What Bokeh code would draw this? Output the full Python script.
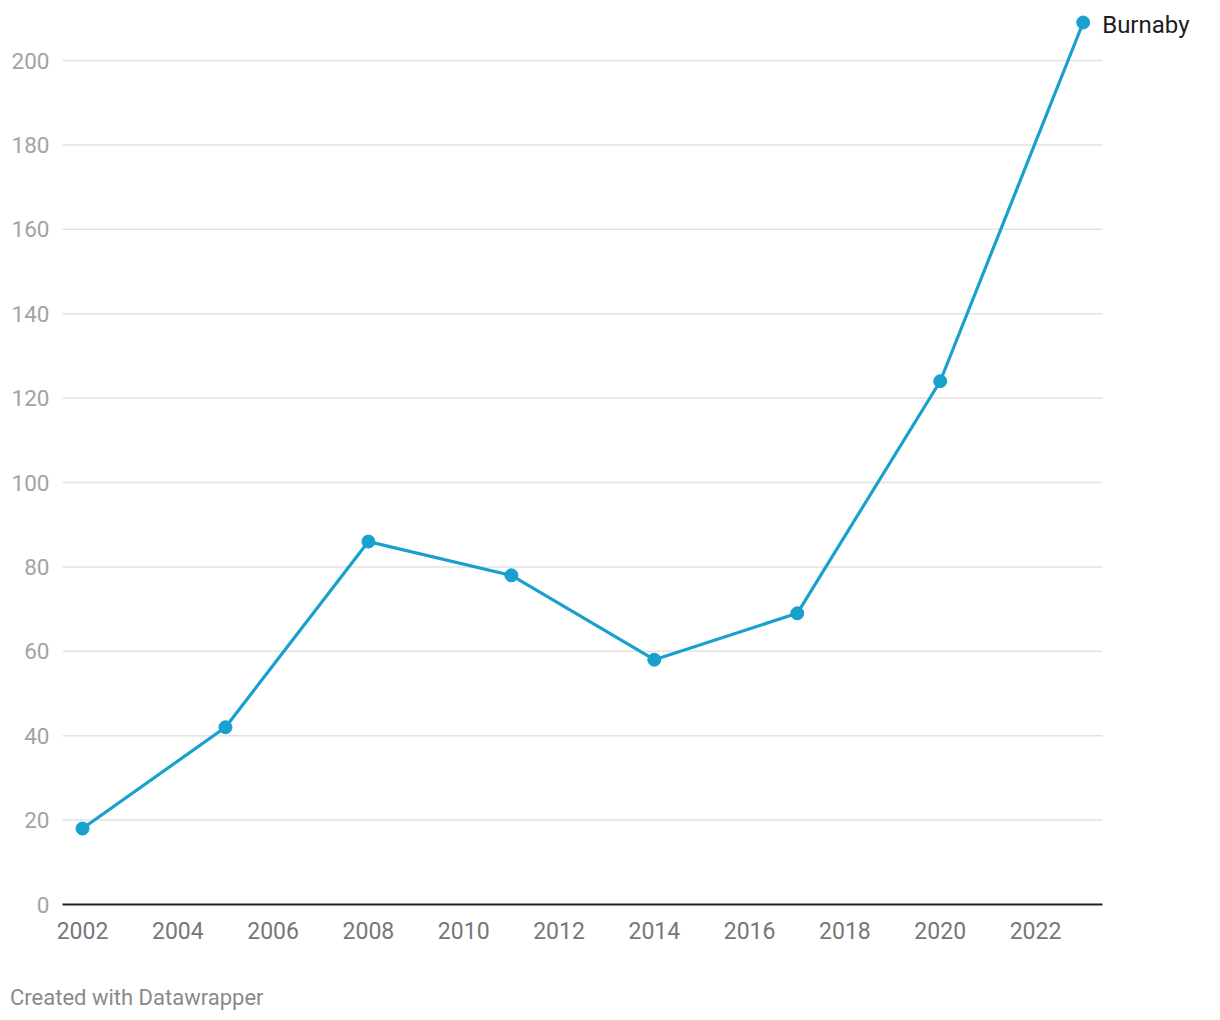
from bokeh.plotting import figure
from bokeh.models import FixedTicker, Range1d, ColumnDataSource, Div
from bokeh.layouts import column
from bokeh.core.properties import value
from bokeh.embed import file_html
from bokeh.resources import INLINE

years = [2002, 2005, 2008, 2011, 2014, 2017, 2020, 2023]
values = [18, 42, 86, 78, 58, 69, 124, 209]
series_name = "Burnaby"
x_ticks = list(range(2002, 2023, 2))
y_ticks = list(range(0, 201, 20))
credit = "Created with Datawrapper"

LINE = "#18a1cd"
FONT = "Roboto"

X0, X_GRID_END, X1 = 2001.58, 2023.406, 2025.672
Y0, Y1 = 0, 214.22

p = figure(width=1210, height=948, output_backend="svg", toolbar_location=None,
           x_range=Range1d(X0, X1), y_range=Range1d(Y0, Y1),
           min_border_left=62, min_border_right=0, min_border_top=0, min_border_bottom=44)
p.outline_line_color = None
p.background_fill_color = "white"
p.border_fill_color = "white"

# axes
p.xaxis.ticker = FixedTicker(ticks=x_ticks)
p.xaxis.bounds = (X0, X_GRID_END)
p.xaxis.axis_line_color = "#222222"
p.xaxis.axis_line_width = 2
p.xaxis.major_tick_line_color = None
p.xaxis.minor_tick_line_color = None
p.xaxis.major_label_text_font = FONT
p.xaxis.major_label_text_font_size = "23px"
p.xaxis.major_label_text_color = "#777777"
p.xaxis.major_label_standoff = 11

p.yaxis.ticker = FixedTicker(ticks=y_ticks)
p.yaxis.axis_line_color = None
p.yaxis.major_tick_line_color = None
p.yaxis.minor_tick_line_color = None
p.yaxis.major_label_text_font = FONT
p.yaxis.major_label_text_font_size = "22.5px"
p.yaxis.major_label_text_color = "#a3a3a3"
p.yaxis.major_label_standoff = 7

p.grid.grid_line_color = None

# horizontal gridlines, limited to the plotting width (not under the label)
grid_src = ColumnDataSource(dict(y=y_ticks[1:], x0=[X0] * (len(y_ticks) - 1),
                                 x1=[X_GRID_END] * (len(y_ticks) - 1)))
p.segment(x0="x0", y0="y", x1="x1", y1="y", source=grid_src,
          line_color="#e2e2e2", line_width=1.5)

src = ColumnDataSource(dict(x=years, y=values))
p.line("x", "y", source=src, line_color=LINE, line_width=3.2)
p.scatter("x", "y", source=src, size=13, fill_color=LINE, line_color=LINE)

p.text(x=[years[-1]], y=[values[-1]], text=[series_name], x_offset=19, y_offset=2,
       text_baseline="middle", text_align="left", text_font=value(FONT),
       text_font_size="24px", text_color="#1d1d1d")

note = Div(text=credit, width=400, height=30, margin=(35, 0, 0, 10),
           styles={"font-family": FONT, "font-size": "22px", "color": "#8a8a8a",
                   "line-height": "30px", "white-space": "nowrap"})

layout = column(p, note, spacing=0)

open("out.html", "w").write(file_html(layout, INLINE))
